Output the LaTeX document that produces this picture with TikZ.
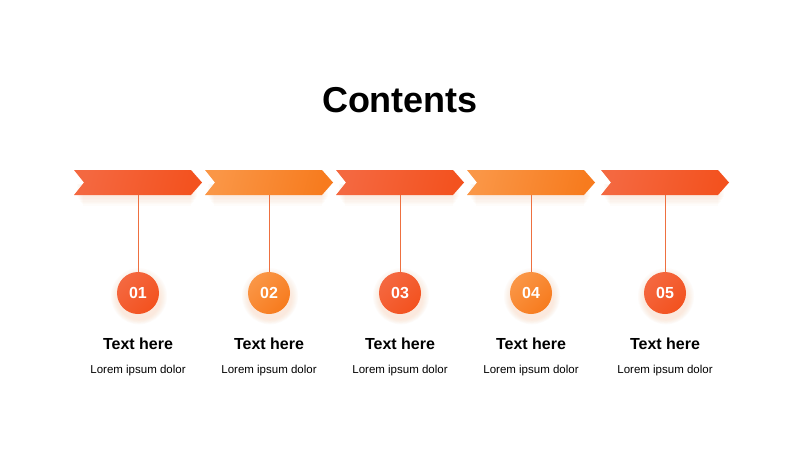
\documentclass[tikz,border=0pt]{standalone}
\usepackage{fontspec}
\setmainfont{Liberation Sans}
\usetikzlibrary{shadings}
\definecolor{redA}{HTML}{F46840}
\definecolor{redB}{HTML}{F3521F}
\definecolor{orgA}{HTML}{FA9646}
\definecolor{orgB}{HTML}{F77B1E}
\definecolor{glow}{HTML}{FBC8A8}
\definecolor{stem}{HTML}{EE7040}
\tikzset{
  anchorbox/.style={minimum width=128pt, minimum height=25pt, inner sep=0pt, draw=none},
  dotnode/.style={circle, minimum size=42pt, inner sep=0pt, text=white, font=\bfseries\fontsize{16}{18}\selectfont},
  heading/.style={font=\bfseries\fontsize{16}{18}\selectfont, text=black},
  bodytext/.style={font=\fontsize{11.5}{13}\selectfont, text=black},
  stemline/.style={draw=stem, line width=1pt},
  redshade/.style={left color=redA, right color=redB, shading angle=75},
  orgshade/.style={left color=orgA, right color=orgB, shading angle=75},
  reddot/.style={left color=redA, right color=redB, shading angle=45},
  orgdot/.style={left color=orgA, right color=orgB, shading angle=45},
}
\begin{document}
\begin{tikzpicture}[x=1pt,y=-1pt]
\useasboundingbox (0,0) rectangle (800,450);
\fill[white] (0,0) rectangle (800,450);
\node[font=\bfseries\fontsize{36}{40}\selectfont] (title) at (400,100) {Contents};
\foreach \i/\cx/\sty/\dsty in {1/138/redshade/reddot,2/269/orgshade/orgdot,3/400/redshade/reddot,4/531/orgshade/orgdot,5/665/redshade/reddot}{
  % glow
  \foreach \k in {1,...,7}{
    \fill[glow, opacity=0.05] (\cx-62+\k,183+\k*0.6) rectangle (\cx+60-\k,196+\k*1.4);
  }
  \foreach \k in {1,...,7}{
    \fill[glow, opacity=0.06] (\cx+1,296+\k*0.3) circle ({21+8-\k});
  }
  \node[anchorbox] (ch\i) at (\cx,182.5) {};
  \shade[\sty] (\cx-64,170) -- (\cx+53,170) -- (\cx+64,182.5) -- (\cx+53,195) -- (\cx-64,195) -- (\cx-54,182.5) -- cycle;
  \node[dotnode, \dsty] (c\i) at (\cx,293) {0\i};
  \draw[stemline] (ch\i.south) -- (c\i.north);
  \node[heading] (h\i) at (\cx,344) {Text here};
  \node[bodytext] (b\i) at (\cx,371) {Lorem ipsum dolor};
}
\end{tikzpicture}
\end{document}
